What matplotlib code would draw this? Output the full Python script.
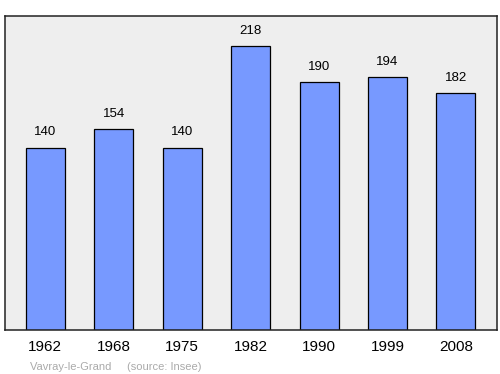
import matplotlib
matplotlib.use("Agg")
import matplotlib.pyplot as plt

# Population data
years = ["1962", "1968", "1975", "1982", "1990", "1999", "2008"]
population = [140, 154, 140, 218, 190, 194, 182]

plt.rcParams['font.family'] = ['Liberation Sans', 'DejaVu Sans']

fig = plt.figure(figsize=(5.0, 3.74), dpi=100)
ax = fig.add_axes([0.01, 1 - 330 / 374, 0.984, (330 - 16) / 374])
ax.set_facecolor("#eeeeee")

x = range(len(years))
ax.bar(x, population, width=0.57, color="#7799ff", edgecolor="black", linewidth=0.9, zorder=2)

for i, v in zip(x, population):
    ax.text(i, v + 7, str(v), ha="center", va="bottom", fontsize=9.5)

ax.set_xlim(-0.59, 6.6)
ax.set_ylim(0, 241)
ax.set_yticks([])
ax.set_xticks(list(x))
ax.set_xticklabels(years, fontsize=11)
ax.tick_params(axis="x", length=0, pad=7)
for s in ax.spines.values():
    s.set_linewidth(1.1)
    s.set_edgecolor("#222222")

fig.text(0.06, 0.012, "Vavray-le-Grand     (source: Insee)", fontsize=8, color="#aaaaaa")

fig.savefig("out.png", dpi=100)
